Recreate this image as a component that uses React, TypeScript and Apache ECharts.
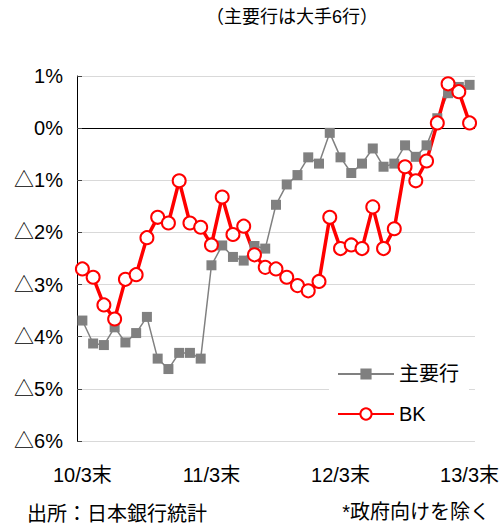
import React, { useEffect, useRef } from "react";
import * as echarts from "echarts";

const categories = [
  "10/3末", "10/4末", "10/5末", "10/6末", "10/7末", "10/8末", "10/9末", "10/10末", "10/11末", "10/12末", "11/1末", "11/2末",
  "11/3末", "11/4末", "11/5末", "11/6末", "11/7末", "11/8末", "11/9末", "11/10末", "11/11末", "11/12末", "12/1末", "12/2末",
  "12/3末", "12/4末", "12/5末", "12/6末", "12/7末", "12/8末", "12/9末", "12/10末", "12/11末", "12/12末", "13/1末", "13/2末",
  "13/3末",
];

const majorBanks = [
  -3.69, -4.13, -4.16, -3.82, -4.11, -3.93, -3.62, -4.42, -4.62, -4.31, -4.31, -4.42,
  -2.63, -2.25, -2.47, -2.54, -2.26, -2.31, -1.47, -1.08, -0.9, -0.56, -0.68, -0.09,
  -0.56, -0.86, -0.68, -0.39, -0.74, -0.68, -0.33, -0.55, -0.33, 0.19, 0.67, 0.79,
  0.83,
];

const bk = [
  -2.7, -2.86, -3.39, -3.66, -2.9, -2.81, -2.1, -1.71, -1.82, -1.01, -1.82, -1.9,
  -2.24, -1.32, -2.04, -1.88, -2.43, -2.67, -2.7, -2.86, -3.02, -3.12, -2.94, -1.71,
  -2.31, -2.24, -2.31, -1.51, -2.31, -1.93, -0.74, -1.01, -0.63, 0.1, 0.85, 0.7,
  0.1,
];

const seriesNames = ["主要行", "BK"];
const titleText = "（主要行は大手6行）";
const sourceText = "出所：日本銀行統計";
const noteText = "*政府向けを除く";

const FONT = "'Liberation Sans', Arial, 'Noto Sans CJK JP', sans-serif";

export default function App() {
  const ref = useRef<HTMLDivElement>(null);
  useEffect(() => {
    if (!ref.current) return;
    const chart = echarts.init(ref.current, undefined, { renderer: "svg" });
    const grid = "#d9d9d9";
    chart.setOption({
      animation: false,
      backgroundColor: "#ffffff",
      textStyle: { fontFamily: FONT },
      grid: { left: 77, right: 24, top: 76, bottom: 83 },
      legend: {
        data: seriesNames,
        orient: "vertical",
        left: 329,
        top: 358,
        padding: [6, 10, 6, 8],
        backgroundColor: "#ffffff",
        itemWidth: 56,
        itemHeight: 14,
        itemGap: 20,
        textStyle: { fontSize: 20, color: "#000", fontFamily: FONT },
      },
      xAxis: {
        type: "category",
        data: categories,
        boundaryGap: true,
        axisLine: { show: false },
        axisTick: { show: false },
        axisLabel: { interval: 11, fontSize: 20, color: "#000", margin: 24, fontFamily: FONT },
      },
      yAxis: {
        type: "value",
        min: -6,
        max: 1,
        interval: 1,
        axisLine: { show: true, lineStyle: { color: "#000", width: 1 } },
        axisTick: { show: true, inside: true, length: 5, lineStyle: { color: "#444" } },
        axisLabel: {
          fontSize: 20,
          color: "#000",
          margin: 14,
          fontFamily: FONT,
          formatter: (v: number) => (v < 0 ? "△" + -v + "%" : v + "%"),
        },
        splitLine: {
          show: true,
          lineStyle: { color: [grid, grid, grid, grid, grid, grid, "#000000", grid], width: 1 },
        },
      },
      series: [
        {
          name: seriesNames[0],
          type: "line",
          data: majorBanks,
          symbol: "rect",
          symbolSize: 10,
          showAllSymbol: true,
          color: "#808080",
          lineStyle: { color: "#808080", width: 1.5 },
          itemStyle: { color: "#808080" },
        },
        {
          name: seriesNames[1],
          type: "line",
          data: bk,
          symbol: "circle",
          symbolSize: 13,
          showAllSymbol: true,
          color: "#ff0000",
          lineStyle: { color: "#ff0000", width: 3.5 },
          itemStyle: { color: "#ffffff", borderColor: "#ff0000", borderWidth: 2 },
        },
      ],
      graphic: [
        {
          type: "text",
          x: 292,
          y: 17,
          style: { text: titleText, fill: "#000", font: `18px ${FONT}`, align: "center", verticalAlign: "middle" },
        },
        {
          type: "text",
          x: 27,
          y: 514,
          style: { text: sourceText, fill: "#000", font: `20px ${FONT}`, align: "left", verticalAlign: "middle" },
        },
        {
          type: "text",
          x: 490,
          y: 512,
          style: { text: noteText, fill: "#000", font: `20px ${FONT}`, align: "right", verticalAlign: "middle" },
        },
      ],
    });
    return () => chart.dispose();
  }, []);
  return <div ref={ref} style={{ position: "fixed", left: 0, top: 0, width: 502, height: 524 }} />;
}
